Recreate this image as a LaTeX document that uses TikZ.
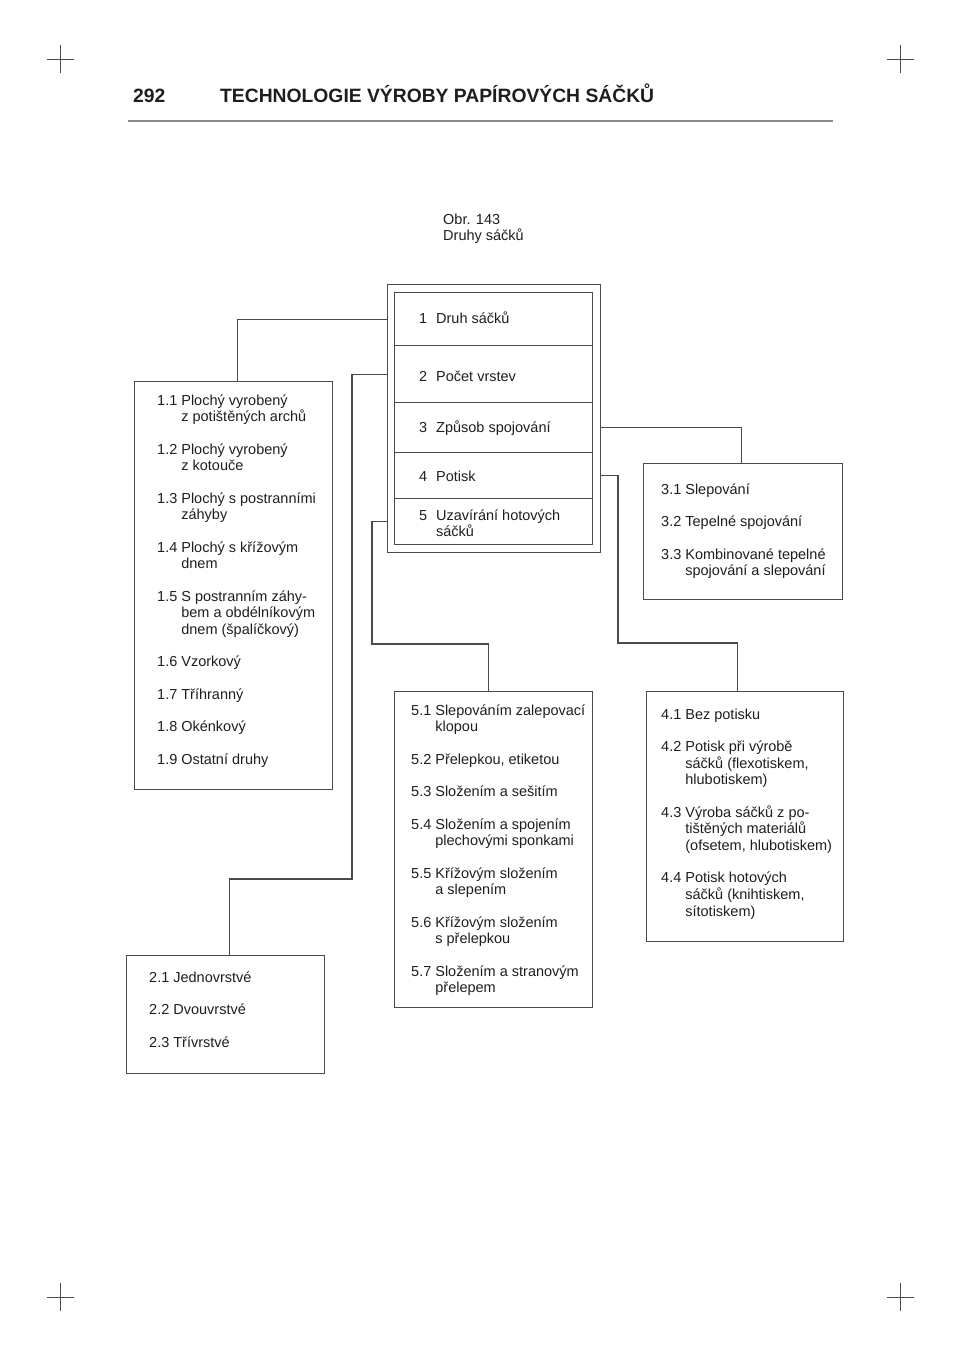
\documentclass[tikz,border=0pt]{standalone}
\usepackage{fontspec}
\setmainfont{Liberation Sans}
\usetikzlibrary{calc}
\definecolor{linec}{HTML}{4A4A4A}
\definecolor{textc}{HTML}{1E1E1E}
\definecolor{rulec}{HTML}{8A8A8A}
\newcommand{\ctab}[2]{\begin{tabular}[t]{@{}l@{\hspace{8.9pt}}l@{}}#1 & #2\end{tabular}}
\begin{document}
\begin{tikzpicture}[x=1pt,y=-1pt,
  conn/.style={draw=linec, line width=1.2pt},
  cropln/.style={draw=linec, line width=0.9pt},
  boxst/.style={draw=linec, line width=1.2pt, rectangle, inner sep=0pt, anchor=north west},
  txt/.style={anchor=base west, inner sep=0pt, text=textc, font=\fontsize{14.5}{16.5}\selectfont},
  titlest/.style={anchor=base west, inner sep=0pt, text=textc, font=\bfseries\fontsize{19.3}{22}\selectfont}]
\path[use as bounding box] (0,0) rectangle (960,1358);
% crop marks
\foreach \cx/\cy in {60/59, 900/59, 60/1297, 900/1297}{
  \draw[cropln] (\cx-13.5,\cy) -- (\cx+13.5,\cy);
  \draw[cropln] (\cx,\cy-14) -- (\cx,\cy+14);
}
% title
\node[titlest] (pg) at (133,102) {292};
\node[titlest] (ttl) at (220,102) {TECHNOLOGIE VÝROBY PAPÍROVÝCH SÁČKŮ};
\draw[draw=rulec, line width=2pt] (128,121) -- (833,121);
% caption
\node[txt] (obr) at (443,224) {\begin{tabular}[t]{@{}l@{}}Obr. 143\\Druhy sáčků\end{tabular}};
% central box
\node[boxst, minimum width=213pt, minimum height=268pt] (outer) at (387,284) {};
\node[boxst, minimum width=198pt, minimum height=53pt] (r1) at (394,292) {};
\node[boxst, minimum width=198pt, minimum height=57pt] (r2) at (394,345) {};
\node[boxst, minimum width=198pt, minimum height=50pt] (r3) at (394,402) {};
\node[boxst, minimum width=198pt, minimum height=46pt] (r4) at (394,452) {};
\node[boxst, minimum width=198pt, minimum height=46pt] (r5) at (394,498) {};
\node[txt] (t1) at (419,323) {\ctab{1}{Druh sáčků}};
\node[txt] (t2) at (419,381) {\ctab{2}{Počet vrstev}};
\node[txt] (t3) at (419,432) {\ctab{3}{Způsob spojování}};
\node[txt] (t4) at (419,481) {\ctab{4}{Potisk}};
\node[txt] (t5) at (419,520) {\begin{tabular}[t]{@{}l@{\hspace{8.9pt}}l@{}}5 & Uzavírání hotových\\ & sáčků\end{tabular}};
% box 1
\node[boxst, minimum width=198pt, minimum height=408pt] (b1) at (134,381) {};
\node[txt] (b1t) at (157,405) {\begin{tabular}[t]{@{}l@{\hspace{4pt}}l@{}}
1.1 & Plochý vyrobený\\
 & z potištěných archů\\[16pt]
1.2 & Plochý vyrobený\\
 & z kotouče\\[16pt]
1.3 & Plochý s postranními\\
 & záhyby\\[16pt]
1.4 & Plochý s křížovým\\
 & dnem\\[16pt]
1.5 & S postranním záhy-\\
 & bem a obdélníkovým\\
 & dnem (špalíčkový)\\[16pt]
1.6 & Vzorkový\\[16pt]
1.7 & Tříhranný\\[16pt]
1.8 & Okénkový\\[16pt]
1.9 & Ostatní druhy
\end{tabular}};
% box 2
\node[boxst, minimum width=198pt, minimum height=118pt] (b2) at (126,955) {};
\node[txt] (b2t) at (149,982) {\begin{tabular}[t]{@{}l@{\hspace{4pt}}l@{}}
2.1 & Jednovrstvé\\[16pt]
2.2 & Dvouvrstvé\\[16pt]
2.3 & Třívrstvé
\end{tabular}};
% box 3
\node[boxst, minimum width=199pt, minimum height=136pt] (b3) at (643,463) {};
\node[txt] (b3t) at (661,494) {\begin{tabular}[t]{@{}l@{\hspace{4pt}}l@{}}
3.1 & Slepování\\[16pt]
3.2 & Tepelné spojování\\[16pt]
3.3 & Kombinované tepelné\\
 & spojování a slepování
\end{tabular}};
% box 4
\node[boxst, minimum width=197pt, minimum height=250pt] (b4) at (646,691) {};
\node[txt] (b4t) at (661,719) {\begin{tabular}[t]{@{}l@{\hspace{4pt}}l@{}}
4.1 & Bez potisku\\[16pt]
4.2 & Potisk při výrobě\\
 & sáčků (flexotiskem,\\
 & hlubotiskem)\\[16pt]
4.3 & Výroba sáčků z po-\\
 & tištěných materiálů\\
 & (ofsetem, hlubotiskem)\\[16pt]
4.4 & Potisk hotových\\
 & sáčků (knihtiskem,\\
 & sítotiskem)
\end{tabular}};
% box 5
\node[boxst, minimum width=198pt, minimum height=316pt] (b5) at (394,691) {};
\node[txt] (b5t) at (411,715) {\begin{tabular}[t]{@{}l@{\hspace{4pt}}l@{}}
5.1 & Slepováním zalepovací\\
 & klopou\\[16pt]
5.2 & Přelepkou, etiketou\\[16pt]
5.3 & Složením a sešitím\\[16pt]
5.4 & Složením a spojením\\
 & plechovými sponkami\\[16pt]
5.5 & Křížovým složením\\
 & a slepením\\[16pt]
5.6 & Křížovým složením\\
 & s přelepkou\\[16pt]
5.7 & Složením a stranovým\\
 & přelepem
\end{tabular}};
% connectors
\coordinate (k2) at (352,879);
\coordinate (k4) at (618,643);
\coordinate (k5) at (372,644);
\draw[conn] (outer.west |- r1.center) -| ([xshift=4pt]b1.north);
\draw[conn] (outer.west |- r2.center) -| (k2) -| ([xshift=4pt]b2.north);
\draw[conn] (outer.east |- r3.center) -| ([xshift=-1.5pt]b3.north);
\draw[conn] (outer.east |- r4.center) -| (k4) -| ([xshift=-7.5pt]b4.north);
\draw[conn] (outer.west |- r5.center) -| (k5) -| ([xshift=-5pt]b5.north);
\end{tikzpicture}
\end{document}
